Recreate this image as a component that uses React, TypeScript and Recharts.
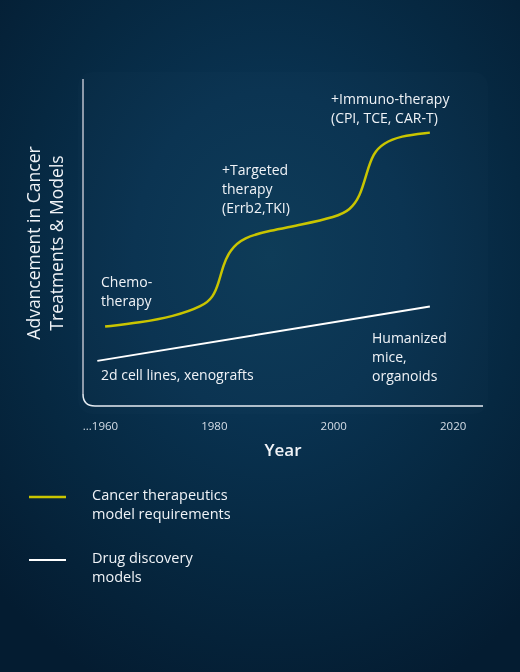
import React from 'react';
import { LineChart, Line, XAxis, YAxis, usePlotArea } from 'recharts';

// year / advancement readings
const therapyYears = [1961.7, 1967.5, 1973.1, 1978.2, 1979.8, 1980.7, 1981.5, 1982.6, 1984.9, 1989.3, 1994.4, 2000.5, 2002.7, 2004.4, 2005.5, 2006.6, 2008.3, 2011.1, 2016.1];
const therapyValues = [24.3, 25.5, 27.3, 30.6, 33.4, 37.5, 43.1, 47.7, 51.6, 53.6, 55.4, 57.9, 59.9, 64.0, 71.2, 77.3, 80.3, 82.6, 83.6];

const modelYears = [1960.4, 2016.1];
const modelValues = [13.8, 30.4];

const yearTicks = [1960, 1980, 2000, 2020];
const tickLabels = ['...1960', '1980', '2000', '2020'];

const therapyData = therapyYears.map((year, i) => ({ year, value: therapyValues[i] }));
const modelData = modelYears.map((year, i) => ({ year, value: modelValues[i] }));

const FONT = '"Open Sans", "Noto Sans", sans-serif';
const YELLOW = '#c9c500';
const TEXT = '#f0f3f7';

function AxisFrame() {
  const area = usePlotArea();
  if (!area) return null;
  const { x, y, width, height } = area;
  const r = 12;
  const bottom = y + height;
  return (
    <g>
      <path d={`M${x},${y} L${x},${bottom - r}`} stroke="#8e9aaa" strokeWidth={2} fill="none" />
      <path
        d={`M${x},${bottom - r} Q${x},${bottom} ${x + r},${bottom} L${x + width},${bottom}`}
        stroke="#e6ecf2"
        strokeWidth={1.5}
        fill="none"
      />
    </g>
  );
}

function YearTick(props: any) {
  const { x, y, payload } = props;
  const i = yearTicks.indexOf(payload.value);
  const first = i === 0;
  return (
    <text
      x={first ? x + 5.5 : x}
      y={y + 16}
      textAnchor="middle"
      fill="#d6dee7"
      fontSize={11.5}
      fontFamily={FONT}
    >
      {tickLabels[i]}
    </text>
  );
}

function Note({ x, y, lines }: { x: number; y: number; lines: string[] }) {
  return (
    <text x={x} y={y} fill={TEXT} fontSize={14} fontWeight={500} fontFamily={FONT}>
      {lines.map((l, i) => (
        <tspan key={i} x={x} dy={i === 0 ? 0 : 19}>
          {l}
        </tspan>
      ))}
    </text>
  );
}

export default function App() {
  return (
    <div
      style={{
        position: 'fixed',
        left: 0,
        top: 0,
        width: 520,
        height: 672,
        overflow: 'hidden',
        background:
          'radial-gradient(ellipse 75% 70% at 52% 38%, #0c3a57 0%, #093250 35%, #062841 65%, #041c31 100%)',
      }}
    >
      <div
        style={{
          position: 'absolute',
          left: 78,
          top: 72,
          width: 410,
          height: 342,
          borderRadius: 14,
          background: 'rgba(255,255,255,0.01)',
        }}
      />
      <div style={{ position: 'absolute', left: 0, top: 0 }}>
        <LineChart width={520} height={672} margin={{ top: 79, right: 37, bottom: 236, left: 83 }}>
          <XAxis
            dataKey="year"
            type="number"
            domain={[1958, 2025]}
            ticks={yearTicks}
            axisLine={false}
            tickLine={false}
            tick={<YearTick />}
            height={30}
            allowDataOverflow
          />
          <YAxis type="number" domain={[0, 100]} hide />
          <AxisFrame />
          <Line
            data={modelData}
            dataKey="value"
            type="linear"
            stroke="#ffffff"
            strokeWidth={2}
            dot={false}
            isAnimationActive={false}
          />
          <Line
            data={therapyData}
            dataKey="value"
            type="basis"
            stroke={YELLOW}
            strokeWidth={2.5}
            dot={false}
            isAnimationActive={false}
          />
        </LineChart>
      </div>
      <svg
        width={520}
        height={672}
        style={{ position: 'absolute', left: 0, top: 0, pointerEvents: 'none' }}
      >
        <g fontFamily={FONT} fill={TEXT}>
          <text transform="translate(40,243) rotate(-90)" textAnchor="middle" fontSize={17.5} fontWeight={500}>
            Advancement in Cancer
          </text>
          <text transform="translate(63,243) rotate(-90)" textAnchor="middle" fontSize={17.5} fontWeight={500}>
            Treatments &amp; Models
          </text>
          <text x={283} y={456} textAnchor="middle" fontSize={17} fontWeight={600}>
            Year
          </text>
        </g>
        <Note x={101} y={287} lines={['Chemo-', 'therapy']} />
        <Note x={222} y={175} lines={['+Targeted', 'therapy', '(Errb2,TKI)']} />
        <Note x={331} y={104} lines={['+Immuno-therapy', '(CPI, TCE, CAR-T)']} />
        <Note x={372} y={343} lines={['Humanized', 'mice,', 'organoids']} />
        <Note x={101} y={380} lines={['2d cell lines, xenografts']} />

        <line x1={29} y1={497} x2={66} y2={497} stroke={YELLOW} strokeWidth={2.5} />
        <text x={92} y={500} fill={TEXT} fontSize={14.5} fontWeight={500} fontFamily={FONT}>
          <tspan x={92}>Cancer therapeutics</tspan>
          <tspan x={92} dy={19}>model requirements</tspan>
        </text>
        <line x1={29} y1={560} x2={66} y2={560} stroke="#ffffff" strokeWidth={2} />
        <text x={92} y={563} fill={TEXT} fontSize={14.5} fontWeight={500} fontFamily={FONT}>
          <tspan x={92}>Drug discovery</tspan>
          <tspan x={92} dy={19}>models</tspan>
        </text>
      </svg>
    </div>
  );
}
